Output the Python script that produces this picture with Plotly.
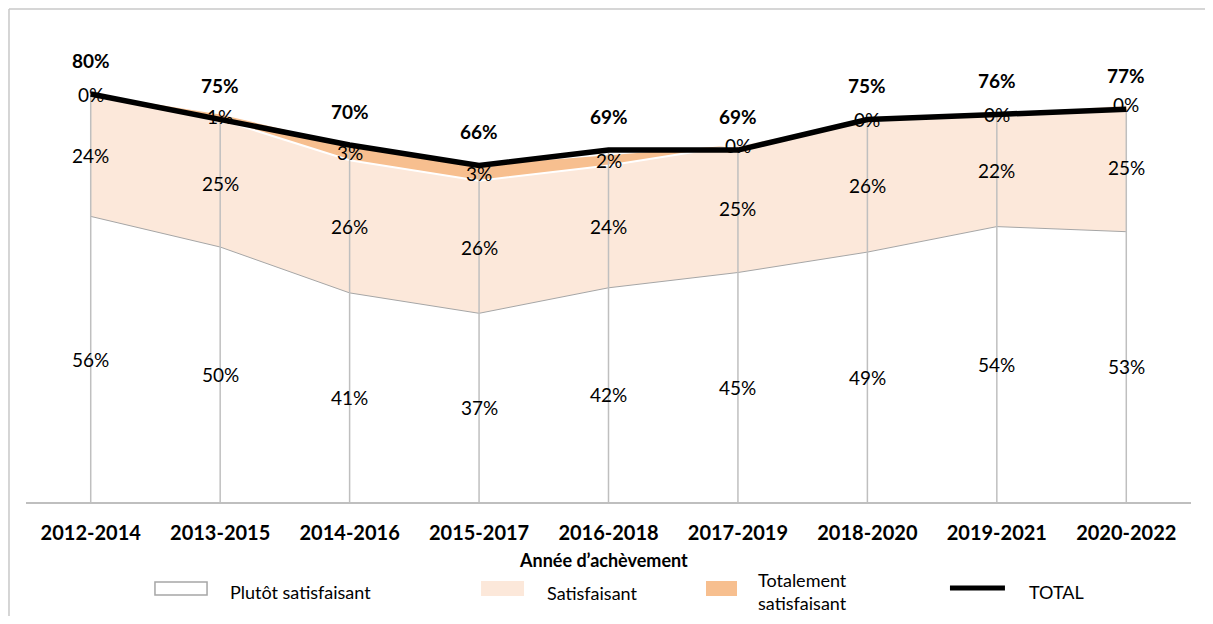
import plotly.graph_objects as go

# Données
periodes = ["2012-2014", "2013-2015", "2014-2016", "2015-2017", "2016-2018",
            "2017-2019", "2018-2020", "2019-2021", "2020-2022"]
plutot = [56, 50, 41, 37, 42, 45, 49, 54, 53]
satisfaisant = [24, 25, 26, 26, 24, 25, 26, 22, 25]
totalement = [0, 1, 3, 3, 2, 0, 0, 0, 0]
total = [80, 75, 70, 66, 69, 69, 75, 76, 77]

FONT = "Lato"
GRIS = "#a6a6a6"
PECHE = "#fce8da"
ORANGE = "#f7bf8f"

fig = go.Figure()

# aires empilées
fig.add_trace(go.Scatter(
    x=periodes, y=plutot, stackgroup="s", mode="lines",
    line=dict(color=GRIS, width=1), fillcolor="white",
    name="Plutôt satisfaisant", hoverinfo="skip"))
fig.add_trace(go.Scatter(
    x=periodes, y=satisfaisant, stackgroup="s", mode="lines",
    line=dict(color="white", width=2), fillcolor=PECHE,
    name="Satisfaisant", hoverinfo="skip"))
fig.add_trace(go.Scatter(
    x=periodes, y=totalement, stackgroup="s", mode="lines",
    line=dict(width=0), fillcolor=ORANGE,
    name="Totalement satisfaisant", hoverinfo="skip"))

# lignes verticales
xs, ys = [], []
for p, t in zip(periodes, total):
    xs += [p, p, None]
    ys += [0, t, None]
fig.add_trace(go.Scatter(x=xs, y=ys, mode="lines",
                         line=dict(color="#bfbfbf", width=1.5),
                         hoverinfo="skip", showlegend=False))

fig.add_trace(go.Scatter(
    x=periodes, y=total, mode="lines",
    line=dict(color="black", width=5.5), name="TOTAL"))

# étiquettes
lab = dict(showarrow=False, font=dict(family=FONT, size=19, color="black"))
for i, p in enumerate(periodes):
    a, b, c = plutot[i], satisfaisant[i], totalement[i]
    fig.add_annotation(x=p, y=a / 2, text=f"{a}%", **lab)
    fig.add_annotation(x=p, y=a + b / 2, text=f"{b}%", **lab)
    fig.add_annotation(x=p, y=a + b + c / 2, text=f"{c}%", **lab)
    fig.add_annotation(x=p, y=total[i], yshift=34, text=f"<b>{total[i]}%</b>",
                       showarrow=False,
                       font=dict(family=FONT, size=19, color="black"))

# cadre extérieur (gauche, haut, droite)
cadre = dict(type="line", xref="paper", yref="paper",
             line=dict(color="#c8c8c8", width=1.5))
fig.add_shape(x0=-0.0146, x1=-0.0146, y0=-0.26, y1=1.074, **cadre)
fig.add_shape(x0=-0.0146, x1=1.0137, y0=1.074, y1=1.074, **cadre)
fig.add_shape(x0=1.0137, x1=1.0137, y0=-0.26, y1=1.074, **cadre)

# titre de l'axe
fig.add_annotation(xref="paper", yref="paper", x=0.4953, y=-0.1264,
                   xanchor="center", yanchor="middle",
                   showarrow=False, text="<b>Année d’achèvement</b>",
                   font=dict(family=FONT, size=18, color="black"))

# légende manuelle
fig.add_shape(type="rect", xref="paper", yref="paper",
              x0=0.1107, x1=0.1554, y0=-0.2026, y1=-0.1743,
              line=dict(color=GRIS, width=1.5), fillcolor="white")
fig.add_shape(type="rect", xref="paper", yref="paper",
              x0=0.3906, x1=0.4275, y0=-0.2048, y1=-0.1721,
              line=dict(width=0), fillcolor=PECHE)
fig.add_shape(type="rect", xref="paper", yref="paper",
              x0=0.5837, x1=0.6103, y0=-0.2048, y1=-0.1721,
              line=dict(width=0), fillcolor=ORANGE)
fig.add_shape(type="line", xref="paper", yref="paper",
              x0=0.7931, x1=0.8403, y0=-0.1874, y1=-0.1874,
              line=dict(color="black", width=5))
leg = dict(xref="paper", yref="paper", showarrow=False, xanchor="left",
           yanchor="middle", font=dict(family=FONT, size=18, color="black"))
fig.add_annotation(x=0.1734, y=-0.196, text="Plutôt satisfaisant", **leg)
fig.add_annotation(x=0.4455, y=-0.198, text="Satisfaisant", **leg)
fig.add_annotation(x=0.6266, y=-0.196, text="Totalement<br>satisfaisant", **leg)
fig.add_annotation(x=0.8592, y=-0.196, text="TOTAL", **leg)

fig.update_layout(
    width=1197, height=608,
    margin=dict(l=18, r=14, t=35, b=114),
    plot_bgcolor="white", paper_bgcolor="white",
    showlegend=False,
    font=dict(family=FONT, color="black"),
    xaxis=dict(
        type="category", range=[-0.5, 8.5],
        showgrid=False, showline=True, linecolor="#bfbfbf", linewidth=1.5,
        ticks="", ticklabelstandoff=12,
        tickfont=dict(family=FONT, size=20, color="black", weight="bold"),
    ),
    yaxis=dict(range=[0, 90], visible=False),
)

fig.write_html("out.html")
